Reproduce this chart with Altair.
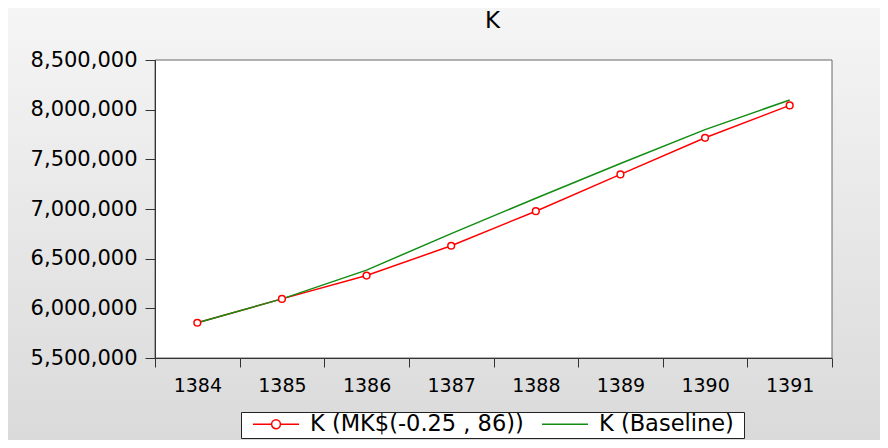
import altair as alt
import pandas as pd

# ---- data ----
years = ["1384", "1385", "1386", "1387", "1388", "1389", "1390", "1391"]
mk_values = [5855000, 6095000, 6330000, 6630000, 6978000, 7348000, 7717000, 8043000]
baseline_values = [5855000, 6095000, 6385000, 6752000, 7108000, 7458000, 7799000, 8098000]
series_names = ["K (MK$(-0.25 , 86))", "K (Baseline)"]
series_colors = ["#ff0000", "#128c12"]
y_ticks = [5500000, 6000000, 6500000, 7000000, 7500000, 8000000, 8500000]
title_text = "K"

rows = []
for name, vals in zip(series_names, [mk_values, baseline_values]):
    for yr, v in zip(years, vals):
        rows.append({"year": yr, "value": v, "series": name})
df = pd.DataFrame(rows)
one = pd.DataFrame({"k": [0]})

# ---- layout ----
W, H = 677, 298
PL, PT, PR, PB = 147, 52, 48, 82
FONT = "DejaVu Sans"

# legend symbols: invisible lead-in (moveTo) gives left padding in the box
green_path = "M-1,0M-0.673,0L1,0"
red_path = ("M-1,0M-0.673,0L0.004,0M0.324,0A0.16,0.16 0 1 1 0.004,0"
            "A0.16,0.16 0 1 1 0.324,0M0.324,0L1,0")
sym_expr = f"datum.value === '{series_names[1]}' ? '{green_path}' : '{red_path}'"
# a no-break space kept (not trimmed) by a trailing zero-width space -> right padding
label_expr = (f"datum.value === '{series_names[1]}' ? "
              "datum.label + '\u00a0\u200b' : datum.label")

legend = alt.Legend(
    title=None, orient="none", legendX=86, legendY=352, direction="horizontal",
    fillColor="white", strokeColor="#222", padding=2, cornerRadius=0,
    labelFont=FONT, labelFontSize=22.5, labelColor="black", labelOffset=10,
    labelLimit=400, labelExpr=label_expr, columnPadding=8, symbolSize=3025,
    symbolStrokeWidth=1.5, symbolType={"expr": sym_expr}, symbolFillColor="white",
    clipHeight=20, zindex=1,
)

color = alt.Color(
    "series:N",
    scale=alt.Scale(domain=series_names, range=series_colors),
    legend=legend,
)
x = alt.X(
    "year:O",
    scale=alt.Scale(type="band", paddingInner=0, paddingOuter=0),
    axis=alt.Axis(
        title=None, labelAngle=0, tickBand="extent", tickSize=9, labelPadding=9,
        labelFont=FONT, labelFontSize=19, labelColor="black",
        domainColor="#333", tickColor="#333", grid=False, zindex=1,
    ),
)
y = alt.Y(
    "value:Q",
    scale=alt.Scale(domain=[y_ticks[0], y_ticks[-1]], nice=False, zero=False),
    axis=alt.Axis(
        title=None, values=y_ticks, labelExpr="format(datum.value, ',')",
        tickSize=10, labelPadding=8,
        labelFont=FONT, labelFontSize=21, labelColor="black",
        domainColor="#333", tickColor="#333", grid=False, zindex=1,
    ),
)

bg = alt.Chart(one).mark_rect(
    color=alt.Gradient(
        gradient="linear",
        stops=[alt.GradientStop(color="#f5f5f5", offset=0),
               alt.GradientStop(color="#dadada", offset=1)],
        x1=0, x2=0, y1=0, y2=1,
    )
).encode(x=alt.value(-PL), x2=alt.value(W + PR), y=alt.value(-PT), y2=alt.value(H + PB))

plot_bg = alt.Chart(one).mark_rect(fill="white", stroke="#666", strokeWidth=1).encode(
    x=alt.value(0), x2=alt.value("width"), y=alt.value(0), y2=alt.value("height")
)

title = alt.Chart(one).mark_text(
    text=title_text, font=FONT, fontSize=23, color="black",
    align="center", baseline="alphabetic",
).encode(x=alt.value(W / 2 - 1), y=alt.value(-32))

base = alt.Chart(df)
red_line = base.transform_filter(alt.datum.series == series_names[0]).mark_line(
    strokeWidth=1.5
).encode(x=x, y=y, color=color)
green_line = base.transform_filter(alt.datum.series == series_names[1]).mark_line(
    strokeWidth=1.5
).encode(x=x, y=y, color=color)
points = base.transform_filter(alt.datum.series == series_names[0]).mark_point(
    shape="circle", filled=False, fill="white", size=45, strokeWidth=1.5, opacity=1
).encode(x=x, y=y, color=color)

chart = alt.layer(bg, plot_bg, title, red_line, green_line, points).properties(
    width=W, height=H,
    padding={"left": PL, "top": PT, "right": PR, "bottom": PB},
    autosize="none",
).configure(background="#e8e8e8").configure_view(strokeWidth=0)

chart.save("out.html", embed_options={"renderer": "svg", "actions": False})
